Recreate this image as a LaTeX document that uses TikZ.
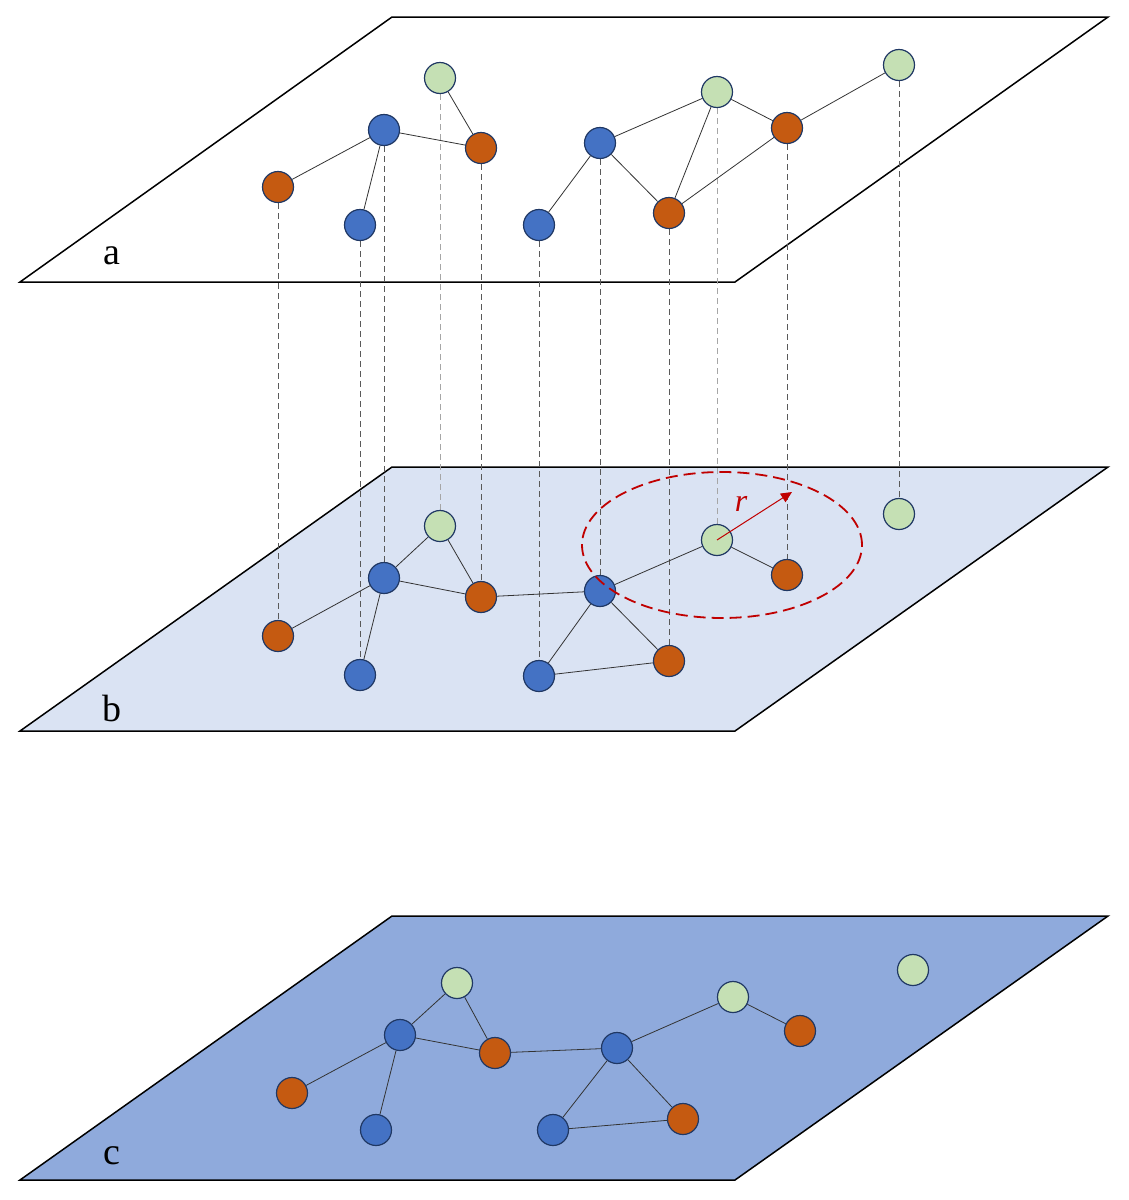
\documentclass[tikz,border=0pt]{standalone}
\usepackage{fontspec}
\setmainfont{Liberation Serif}
\usetikzlibrary{arrows.meta,shapes.geometric}
\definecolor{orn}{HTML}{C55A11}
\definecolor{blu}{HTML}{4472C4}
\definecolor{grn}{HTML}{C5E0B4}
\definecolor{edg}{HTML}{203864}
\definecolor{pb}{HTML}{DAE3F3}
\definecolor{pc}{HTML}{8FAADC}
\definecolor{rd}{HTML}{C00000}
\pgfdeclarelayer{planes}
\pgfdeclarelayer{links}
\pgfsetlayers{planes,links,main}
\tikzset{
 nd/.style={circle,draw=edg,line width=1.2pt,minimum size=31pt,inner sep=0pt},
 on/.style={nd,fill=orn}, bn/.style={nd,fill=blu}, gn/.style={nd,fill=grn},
 pl/.style={draw=black,line width=1.5pt},
 ed/.style={draw=black!80,line width=0.8pt},
 vl/.style={draw=black!65,line width=0.9pt,dash pattern=on 6pt off 4pt},
 vll/.style={vl,draw=black!35},
 lab/.style={font=\fontsize{38}{38}\selectfont}
}
\begin{document}
\begin{tikzpicture}[x=1pt,y=-1pt]
\useasboundingbox (0,0) rectangle (1128,1200);
\begin{pgfonlayer}{planes}
\fill[white] (0,0) rectangle (1128,1200);
\draw[pl,fill=white] (392,17)--(1108,17)--(735,282)--(20,282)--cycle;
\draw[pl,fill=pb] (392,467)--(1108,467)--(735,731)--(20,731)--cycle;
\draw[pl,fill=pc] (392,916)--(1108,916)--(735,1180)--(20,1180)--cycle;
\end{pgfonlayer}
\node[lab] (la) at (112,256) {a};
\node[lab] (lb) at (112,708) {b};
\node[lab] (lc) at (112,1156) {c};
% layer a
\node[on] (a1) at (278,187) {};
\node[bn] (a2) at (360,225) {};
\node[bn] (a3) at (384,130) {};
\node[gn] (a4) at (440,78) {};
\node[on] (a5) at (481,148) {};
\node[bn] (a6) at (539,225) {};
\node[bn] (a7) at (600,143) {};
\node[gn] (a8) at (717,92) {};
\node[on] (a9) at (669,213) {};
\node[on] (a10) at (787,128) {};
\node[gn] (a11) at (899,65) {};
% layer b
\node[on] (b1) at (278,636) {};
\node[bn] (b2) at (360,675) {};
\node[bn] (b3) at (384,578) {};
\node[gn] (b4) at (440,526) {};
\node[on] (b5) at (481,597) {};
\node[bn] (b6) at (539,676) {};
\node[bn] (b7) at (600,591) {};
\node[gn] (b8) at (717,540) {};
\node[on] (b9) at (669,661) {};
\node[on] (b10) at (787,575) {};
\node[gn] (b11) at (899,514) {};
% layer c
\node[on] (c1) at (292,1093) {};
\node[bn] (c2) at (376,1130) {};
\node[bn] (c3) at (400,1035) {};
\node[gn] (c4) at (457,983) {};
\node[on] (c5) at (495,1053) {};
\node[bn] (c6) at (553,1130) {};
\node[bn] (c7) at (617,1048) {};
\node[gn] (c8) at (733,997) {};
\node[on] (c9) at (683,1119) {};
\node[on] (c10) at (800,1031) {};
\node[gn] (c11) at (913,970) {};
\begin{pgfonlayer}{links}
\foreach \i in {1,2,3,5,6,7,9,10,11} {\draw[vl] (a\i) -- (b\i);}
\foreach \i in {4,8} {\draw[vll] (a\i) -- (b\i);}
\draw[ed] (a1)--(a3) (a3)--(a2) (a3)--(a5) (a4)--(a5) (a6)--(a7) (a7)--(a9) (a9)--(a8) (a8)--(a7) (a8)--(a10) (a9)--(a10) (a10)--(a11);
\foreach \p in {b,c} {
 \draw[ed] (\p1)--(\p3) (\p3)--(\p2) (\p3)--(\p4) (\p4)--(\p5) (\p3)--(\p5) (\p5)--(\p7) (\p7)--(\p6) (\p6)--(\p9) (\p7)--(\p9) (\p7)--(\p8) (\p8)--(\p10);
}
\end{pgfonlayer}
\node[draw=rd,dash pattern=on 12pt off 6pt,line width=1.8pt,ellipse,minimum width=280pt,minimum height=146pt] (circ) at (722,545) {};
\coordinate (rt) at (792,492);
\draw[rd,line width=1pt,-{Triangle[length=11pt,width=10pt]}] (b8.center) -- (rt);
\node[text=rd,font=\itshape\fontsize{32}{32}\selectfont] (rl) at (741,504) {r};
\end{tikzpicture}
\end{document}
